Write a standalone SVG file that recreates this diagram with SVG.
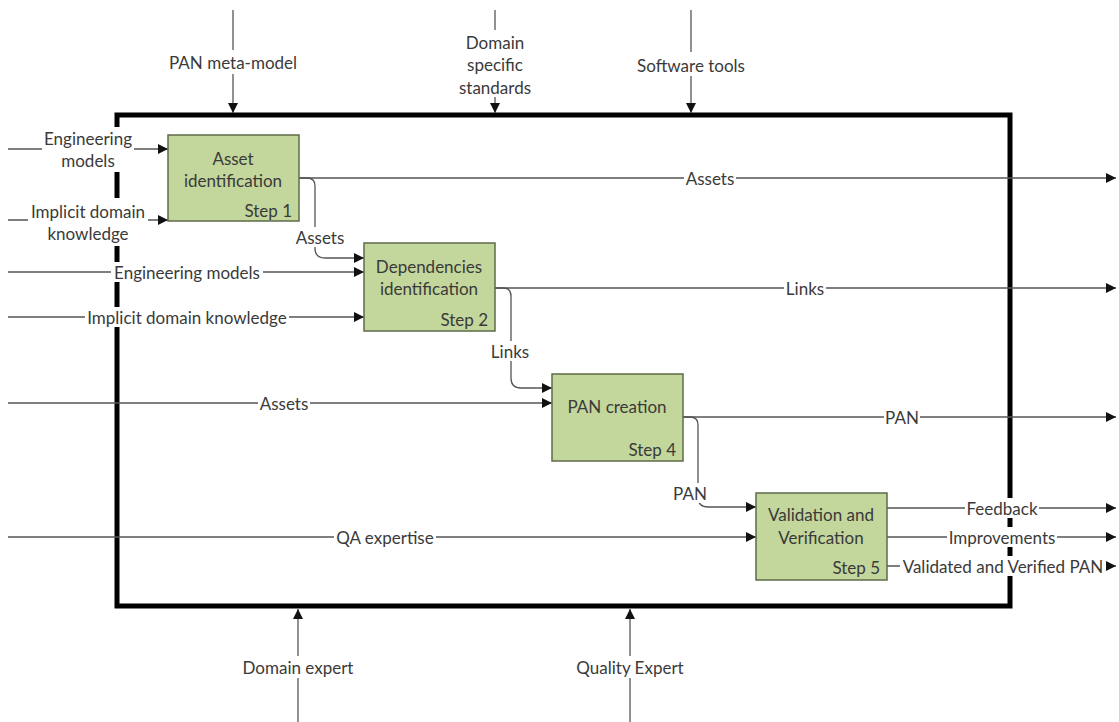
<svg xmlns="http://www.w3.org/2000/svg" width="1119" height="722" viewBox="0 0 1119 722">
  <style>
    text { font-family: "Lato", "Liberation Sans", sans-serif; font-size: 17px; fill: #3a3a3a; dominant-baseline: central; }
    .c { text-anchor: middle; }
    .r { text-anchor: end; }
    .frame { fill: none; stroke: #000; stroke-width: 5; }
    .box { fill: #c3d69b; stroke: #5f6b4a; stroke-width: 1.5; }
    .ln { fill: none; stroke: #555; stroke-width: 1.3; }
    .arr { marker-end: url(#ah); }
    .bg { fill: #fff; }
  </style>
  <defs>
    <marker id="ah" viewBox="0 0 10 10" refX="10" refY="5" markerWidth="10" markerHeight="10" markerUnits="userSpaceOnUse" orient="auto">
      <path d="M0,0 L10,5 L0,10 z" fill="#111"/>
    </marker>
  </defs>

  <!-- outer boundary -->
  <rect class="frame" x="117" y="115" width="893" height="491"/>

  <g id="connectors">
    <!-- controls (top) -->
    <path class="ln" d="M233,10 V50"/>
    <path class="ln arr" d="M233,74 V113"/>
    <path class="ln" d="M495,10 V30"/>
    <path class="ln arr" d="M495,97 V113"/>
    <path class="ln" d="M691,10 V52"/>
    <path class="ln arr" d="M691,76 V113"/>
    <!-- mechanisms (bottom) -->
    <path class="ln arr" d="M298,722 V609"/>
    <path class="ln arr" d="M630,722 V609"/>

    <!-- inputs -->
    <path class="ln arr" d="M8,149 H168"/>
    <path class="ln arr" d="M8,220 H168"/>
    <path class="ln arr" d="M8,272 H364"/>
    <path class="ln arr" d="M8,317 H364"/>
    <path class="ln arr" d="M8,403 H552"/>
    <path class="ln arr" d="M8,537 H756"/>

    <!-- step 1 outputs -->
    <path class="ln arr" d="M283,178 H1116"/>
    <path class="ln arr" d="M300,178 H307 Q315,178 315,186 V248 Q315,258 325,258 H364"/>
    <!-- step 2 outputs -->
    <path class="ln arr" d="M495,288 H1116"/>
    <path class="ln arr" d="M495,288 H503 Q511,288 511,296 V378 Q511,388 521,388 H552"/>
    <!-- step 4 outputs -->
    <path class="ln arr" d="M683,417 H1116"/>
    <path class="ln arr" d="M683,417 H690 Q698,417 698,425 V497 Q698,507 708,507 H756"/>
    <!-- step 5 outputs -->
    <path class="ln arr" d="M887,508 H1116"/>
    <path class="ln arr" d="M887,537 H1116"/>
    <path class="ln arr" d="M887,566 H1116"/>
  </g>

  <g id="labels">
    <rect class="bg" x="167" y="52" width="132" height="21"/>
    <text class="c" x="233" y="62">PAN meta-model</text>
    <rect class="bg" x="455" y="31" width="80" height="65"/>
    <text class="c" x="495" y="42">Domain</text>
    <text class="c" x="495" y="64">specific</text>
    <text class="c" x="495" y="87">standards</text>
    <rect class="bg" x="635" y="54" width="112" height="21"/>
    <text class="c" x="691" y="65">Software tools</text>

    <rect class="bg" x="241" y="656" width="114" height="22"/>
    <text class="c" x="298" y="667">Domain expert</text>
    <rect class="bg" x="575" y="656" width="110" height="22"/>
    <text class="c" x="630" y="667">Quality Expert</text>

    <rect class="bg" x="42" y="127" width="92" height="45"/>
    <text class="c" x="88" y="138">Engineering</text>
    <text class="c" x="88" y="160">models</text>
    <rect class="bg" x="28" y="198" width="120" height="48"/>
    <text class="c" x="88" y="211">Implicit domain</text>
    <text class="c" x="88" y="233">knowledge</text>
    <rect class="bg" x="111" y="262" width="152" height="20"/>
    <text class="c" x="187" y="272">Engineering models</text>
    <rect class="bg" x="85" y="307" width="204" height="20"/>
    <text class="c" x="187" y="317">Implicit domain knowledge</text>
    <rect class="bg" x="258" y="393" width="52" height="20"/>
    <text class="c" x="284" y="403">Assets</text>
    <rect class="bg" x="334" y="527" width="102" height="20"/>
    <text class="c" x="385" y="537">QA expertise</text>

    <rect class="bg" x="294" y="227" width="52" height="20"/>
    <text class="c" x="320" y="237">Assets</text>
    <rect class="bg" x="489" y="341" width="42" height="20"/>
    <text class="c" x="510" y="351">Links</text>
    <rect class="bg" x="672" y="483" width="36" height="20"/>
    <text class="c" x="690" y="493">PAN</text>

    <rect class="bg" x="684" y="168" width="52" height="20"/>
    <text class="c" x="710" y="178">Assets</text>
    <rect class="bg" x="784" y="278" width="42" height="20"/>
    <text class="c" x="805" y="288">Links</text>
    <rect class="bg" x="884" y="407" width="36" height="20"/>
    <text class="c" x="902" y="417">PAN</text>

    <rect class="bg" x="965" y="498" width="74" height="20"/>
    <text class="c" x="1002" y="508">Feedback</text>
    <rect class="bg" x="947" y="527" width="110" height="20"/>
    <text class="c" x="1002" y="537">Improvements</text>
    <rect class="bg" x="900" y="556" width="206" height="20"/>
    <text class="c" x="1003" y="566">Validated and Verified PAN</text>
  </g>

  <g id="step1">
    <rect class="box" x="168" y="135" width="131" height="86"/>
    <text class="c" x="233" y="158">Asset</text>
    <text class="c" x="233" y="180">identification</text>
    <text class="r" x="292" y="210">Step 1</text>
  </g>
  <g id="step2">
    <rect class="box" x="364" y="243" width="131" height="88"/>
    <text class="c" x="429" y="266">Dependencies</text>
    <text class="c" x="429" y="288">identification</text>
    <text class="r" x="488" y="319">Step 2</text>
  </g>
  <g id="step4">
    <rect class="box" x="552" y="374" width="131" height="87"/>
    <text class="c" x="617" y="406">PAN creation</text>
    <text class="r" x="676" y="449">Step 4</text>
  </g>
  <g id="step5">
    <rect class="box" x="756" y="493" width="131" height="87"/>
    <text class="c" x="821" y="514">Validation and</text>
    <text class="c" x="821" y="537">Verification</text>
    <text class="r" x="880" y="567">Step 5</text>
  </g>
</svg>
